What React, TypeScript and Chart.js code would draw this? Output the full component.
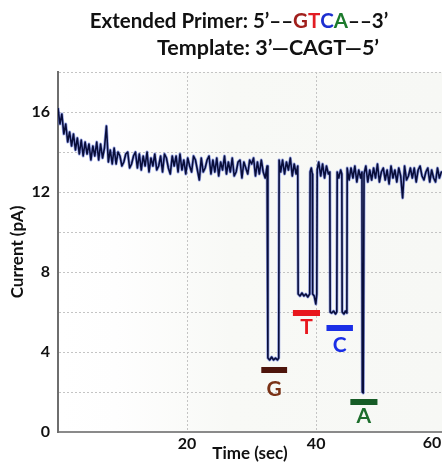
import { useEffect, useRef } from "react";
import { Chart, registerables } from "chart.js";

Chart.register(...registerables);

// ---- trace data (time in s, current in pA) ----
const sampleStep = 0.3;
const preEventStart = 0;
const preEventCurrent = [
  16.2, 15.4, 15.9, 14.9, 15.4, 14.5, 15.0, 14.3, 14.9, 14.1,
  14.7, 13.9, 14.6, 13.8, 14.5, 13.9, 14.4, 13.6, 14.3, 13.8,
  14.5, 13.6, 14.4, 13.7, 14.2, 15.3, 13.5, 14.1, 13.4, 14.2,
  13.4, 14.0, 13.8, 13.3, 13.5, 13.9, 14.0, 13.2, 13.4, 13.8,
  14.0, 13.2, 13.9, 13.1, 13.8, 13.3, 14.0, 13.0, 13.7, 13.3,
  13.9, 13.1, 13.3, 13.8, 13.0, 13.9, 13.7, 13.2, 12.9, 13.8,
  13.3, 13.8, 13.0, 13.9, 13.1, 13.6, 12.9, 13.7, 13.3, 13.0,
  13.8, 13.6, 13.1, 12.6, 13.7, 13.0, 13.2, 13.6, 13.8, 12.9,
  13.6, 13.0, 13.7, 12.8, 13.5, 13.1, 13.8, 12.9, 13.5, 13.0,
  13.7, 12.8, 13.0, 13.5, 13.6, 12.7, 13.5, 13.2, 12.9, 13.6,
  13.4, 13.7, 12.8, 13.5, 12.9, 13.6, 13.0, 12.7, 13.3,
];
const eventTime = [
  32.52, 32.8, 33.1, 33.4, 33.7, 34.0, 34.2, 34.26,
  34.5, 34.8, 35.1, 35.4, 35.7, 36.0, 36.3, 36.6, 36.9, 37.15,
  37.21, 37.5, 37.8, 38.1, 38.4, 38.7, 39.0, 39.07, 39.25, 39.4,
  39.46, 39.7, 39.95, 40.1, 40.16,
  40.4, 40.7, 41.0, 41.3, 41.6, 41.9, 42.12,
  42.17, 42.4, 42.7, 43.0, 43.2, 43.26, 43.5, 43.8, 43.98,
  44.03, 44.3, 44.55, 44.76, 44.81,
  45.1, 45.4, 45.7, 46.0, 46.3, 46.6, 46.9, 47.1,
  47.15, 47.3, 47.42,
];
const eventCurrent = [
  3.7, 3.6, 3.75, 3.6, 3.7, 3.6, 3.7, 13.6,
  13.0, 13.6, 12.9, 13.5, 13.1, 13.7, 12.8, 13.4, 12.9, 13.3,
  6.9, 6.8, 6.95, 6.8, 6.9, 6.75, 6.9, 13.0, 13.2, 12.9,
  6.9, 6.8, 6.4, 6.9, 13.1,
  13.5, 12.8, 13.4, 12.7, 13.3, 12.9, 13.0,
  6.0, 5.95, 6.05, 5.9, 6.0, 13.0, 12.7, 13.1, 12.9,
  6.0, 5.9, 6.05, 5.95, 13.2,
  12.6, 13.2, 12.7, 13.3, 12.5, 13.1, 12.7, 13.0,
  2.0, 1.95, 12.9,
];
const postEventStart = 47.7;
const postEventCurrent = [
  13.3, 12.5, 13.1, 12.6, 13.2, 12.7, 13.4, 12.5, 13.0, 13.2,
  12.6, 13.1, 12.4, 13.3, 12.7, 13.1, 12.5, 13.2, 12.8, 11.7,
  13.3, 12.6, 12.8, 13.2, 12.7, 13.2, 12.5, 13.1, 13.3, 12.8,
  12.6, 13.0, 13.2, 12.5, 13.1, 12.7, 12.5, 13.2, 12.7, 13.0,
  13.0,
];

// ---- base annotations ----
const baseLetters = ["G", "T", "C", "A"];
const baseBarStart = [31.5, 36.4, 41.6, 45.3];
const baseBarEnd = [35.5, 40.6, 45.7, 49.5];
const baseBarLevel = [3.1, 5.95, 5.2, 1.5];
const baseLetterLevel = [2.15, 5.25, 4.35, 0.8];

// ---- axes ----
const xMin = 0;
const xMax = 59.5;
const xTickValues = [0, 20, 40];
const xEdgeLabel = "60";
const yMin = 0;
const yMax = 18;
const yTickValues = [0, 2, 4, 6, 8, 10, 12, 14, 16, 18];
const yLabelledTicks = [0, 4, 8, 12, 16];

const barColors = ["#4e150c", "#e8171d", "#1a2ee6", "#165c26"];
const letterColors = ["#7a3216", "#e8171d", "#1a2ee6", "#1d6e2c"];

const titleLine1: [string, string][] = [
  ["Extended Primer: 5\u2019\u2013\u2013", "#111111"],
  ["G", "#a01f1c"],
  ["T", "#e21d24"],
  ["C", "#1d2fd0"],
  ["A", "#1c7a2c"],
  ["\u2013\u20133\u2019", "#111111"],
];
const titleLine2: [string, string][] = [["Template: 3\u2019\u2014CAGT\u20145\u2019", "#111111"]];

const FONT = "Lato, 'DejaVu Sans', sans-serif";

export default function App() {
  const ref = useRef<HTMLCanvasElement | null>(null);

  useEffect(() => {
    if (!ref.current) return;
    const trace: { x: number; y: number }[] = [];
    preEventCurrent.forEach((v, i) => trace.push({ x: preEventStart + i * sampleStep, y: v }));
    eventTime.forEach((t, i) => trace.push({ x: t, y: eventCurrent[i] }));
    postEventCurrent.forEach((v, i) => trace.push({ x: postEventStart + i * sampleStep, y: v }));

    const barSets = baseLetters.map((_, i) => ({
      data: [
        { x: baseBarStart[i], y: baseBarLevel[i] },
        { x: baseBarEnd[i], y: baseBarLevel[i] },
      ],
      borderColor: barColors[i],
      borderWidth: 6,
      borderCapStyle: "butt" as const,
      pointRadius: 0,
      order: 0,
    }));

    const bgPlugin = {
      id: "bg",
      beforeDraw(chart: any) {
        const { ctx, chartArea: a } = chart;
        const g = ctx.createLinearGradient(a.left, 0, a.right, 0);
        g.addColorStop(0, "#ffffff");
        g.addColorStop(0.15, "#fefefe");
        g.addColorStop(0.45, "#f8f9f6");
        g.addColorStop(1, "#f7f8f5");
        ctx.save();
        ctx.fillStyle = g;
        ctx.fillRect(a.left, a.top, a.right - a.left, a.bottom - a.top);
        ctx.restore();
      },
    };

    const drawLine = (ctx: CanvasRenderingContext2D, parts: [string, string][], cx: number, baseline: number, size: number) => {
      ctx.font = `bold ${size}px ${FONT}`;
      const widths = parts.map((p) => ctx.measureText(p[0]).width);
      const total = widths.reduce((a, b) => a + b, 0);
      let x = cx - total / 2;
      ctx.textBaseline = "alphabetic";
      ctx.textAlign = "left";
      parts.forEach((p, i) => {
        ctx.fillStyle = p[1];
        ctx.fillText(p[0], x, baseline);
        x += widths[i];
      });
    };

    const overlayPlugin = {
      id: "overlay",
      afterDatasetsDraw(chart: any) {
        const { ctx, scales } = chart;
        ctx.save();
        ctx.font = `bold 21px ${FONT}`;
        ctx.textAlign = "center";
        ctx.textBaseline = "middle";
        baseLetters.forEach((l, i) => {
          ctx.fillStyle = letterColors[i];
          const x = scales.x.getPixelForValue((baseBarStart[i] + baseBarEnd[i]) / 2);
          const y = scales.y.getPixelForValue(baseLetterLevel[i]);
          ctx.fillText(l, x, y);
        });
        ctx.restore();
      },
      afterDraw(chart: any) {
        const { ctx, chartArea, scales } = chart;
        ctx.save();
        drawLine(ctx, titleLine1, 239, 28, 20.5);
        drawLine(ctx, titleLine2, 268, 55, 21.5);
        ctx.font = `bold 16px ${FONT}`;
        ctx.fillStyle = "#111111";
        ctx.textAlign = "center";
        ctx.textBaseline = "top";
        ctx.fillText(xEdgeLabel, chartArea.right - 10, scales.x.top + 3);
        ctx.restore();
      },
    };

    const tickFont = { family: FONT, weight: "bold" as const, size: 16 };

    const chart = new Chart(ref.current, {
      type: "line",
      data: {
        datasets: [
          {
            data: trace,
            borderColor: "#080d3a",
            borderWidth: 1.6,
            borderJoinStyle: "round",
            pointRadius: 0,
            tension: 0,
            order: 1,
          },
          {
            data: trace,
            borderColor: "rgba(50,75,210,0.5)",
            borderWidth: 3,
            borderJoinStyle: "round",
            pointRadius: 0,
            tension: 0,
            order: 2,
          },
          ...barSets,
        ] as any,
      },
      plugins: [bgPlugin, overlayPlugin],
      options: {
        responsive: false,
        animation: false,
        parsing: false as any,
        layout: { padding: { top: 72, left: 0, right: 0, bottom: 0 } },
        plugins: { legend: { display: false }, tooltip: { enabled: false }, title: { display: false } },
        scales: {
          x: {
            type: "linear",
            min: xMin,
            max: xMax,
            afterBuildTicks: (s: any) => {
              s.ticks = xTickValues.map((v) => ({ value: v }));
            },
            afterFit: (s: any) => {
              s.height = 32;
            },
            grid: {
              color: (c: any) => (c.tick && c.tick.value === 0 ? "rgba(0,0,0,0)" : "#c4c4c4"),
              drawTicks: false,
              lineWidth: 1,
            },
            border: { display: true, color: "#8a8a8a", width: 2, dash: [2, 2] },
            ticks: {
              padding: 2,
              color: "#111111",
              font: tickFont,
              maxRotation: 0,
              autoSkip: false,
              callback: (v: any) => (v === 0 ? "" : String(v)),
            },
            title: {
              display: true,
              text: "Time (sec)",
              color: "#111111",
              font: { family: FONT, weight: "bold", size: 17 },
              padding: { top: 0, bottom: 0 },
            },
          },
          y: {
            min: yMin,
            max: yMax,
            afterBuildTicks: (s: any) => {
              s.ticks = yTickValues.map((v) => ({ value: v }));
            },
            afterFit: (s: any) => {
              s.width = 58;
            },
            grid: {
              color: (c: any) => (c.tick && c.tick.value === 0 ? "rgba(0,0,0,0)" : "#c4c4c4"),
              drawTicks: false,
              lineWidth: 1,
            },
            border: { display: true, color: "#6e6e6e", width: 2, dash: [2, 2] },
            ticks: {
              padding: 8,
              color: "#111111",
              font: tickFont,
              autoSkip: false,
              callback: (v: any) => (yLabelledTicks.includes(v) ? String(v) : ""),
            },
            title: {
              display: true,
              text: "Current (pA)",
              color: "#111111",
              font: { family: FONT, weight: "bold", size: 17 },
              padding: { top: 7, bottom: 0 },
            },
          },
        },
      },
    });
    return () => chart.destroy();
  }, []);

  return (
    <div style={{ position: "absolute", left: 0, top: 0, width: 442, height: 464, overflow: "hidden", background: "#ffffff" }}>
      <canvas ref={ref} width={442} height={464} style={{ display: "block", width: 442, height: 464 }} />
    </div>
  );
}
